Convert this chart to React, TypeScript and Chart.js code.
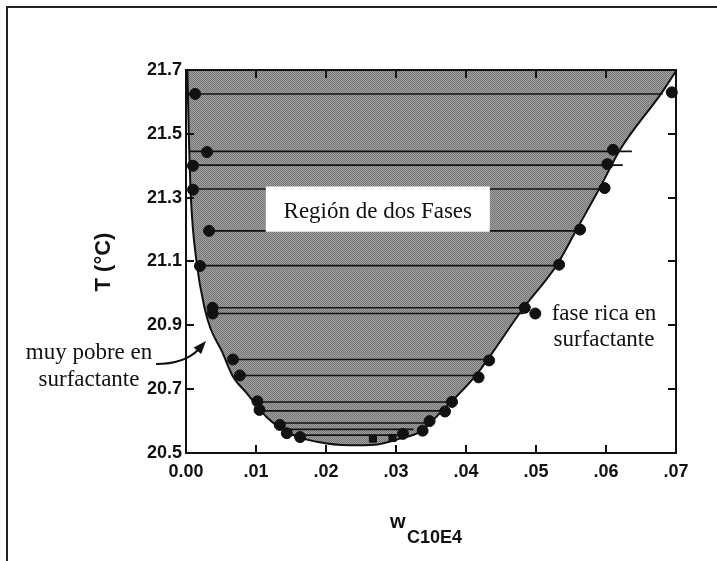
import React, { useEffect, useRef } from 'react';
import { Chart, registerables } from 'chart.js';

Chart.register(...registerables);

// Axis ticks
const xTickValues = [0, 0.01, 0.02, 0.03, 0.04, 0.05, 0.06, 0.07];
const xTickLabels = ['0.00', '.01', '.02', '.03', '.04', '.05', '.06', '.07'];
const yTickValues = [20.5, 20.7, 20.9, 21.1, 21.3, 21.5, 21.7];
const yTickLabels = ['20.5', '20.7', '20.9', '21.1', '21.3', '21.5', '21.7'];

// Binodal (coexistence) curve
const curveX = [0.0002, 0.0004, 0.0007, 0.0015, 0.0027, 0.0035, 0.0051, 0.0067, 0.0087, 0.0115, 0.0149, 0.0187, 0.0234, 0.027, 0.0306, 0.0334, 0.0365, 0.0413, 0.043, 0.048, 0.053, 0.0558, 0.0591, 0.062, 0.068, 0.0701];
const curveT = [21.7, 21.5, 21.3, 21.1, 20.95, 20.89, 20.82, 20.74, 20.687, 20.613, 20.56, 20.535, 20.524, 20.526, 20.545, 20.566, 20.63, 20.74, 20.79, 20.948, 21.09, 21.2, 21.33, 21.45, 21.63, 21.7];

// Surfactant-poor phase (left points)
const leftX = [0.0013, 0.003, 0.001, 0.001, 0.0033, 0.002, 0.0038, 0.0038, 0.0067, 0.0077, 0.0102, 0.0105, 0.0134, 0.0144, 0.0163];
const leftT = [21.625, 21.443, 21.4, 21.325, 21.196, 21.086, 20.955, 20.937, 20.793, 20.743, 20.662, 20.635, 20.588, 20.562, 20.55];

// Surfactant-rich phase (right points)
const rightX = [0.0694, 0.061, 0.0602, 0.0598, 0.0563, 0.0533, 0.0484, 0.0499, 0.0433, 0.0418, 0.038, 0.037, 0.0348, 0.0338, 0.031];
const rightT = [21.63, 21.45, 21.405, 21.33, 21.2, 21.09, 20.955, 20.937, 20.79, 20.737, 20.66, 20.63, 20.6, 20.57, 20.56];

// Tie lines
const tieT = [21.625, 21.445, 21.402, 21.327, 21.196, 21.087, 20.955, 20.937, 20.793, 20.743, 20.66, 20.632, 20.594, 20.574, 20.556];
const tieX1 = [0.0, 0.0005, 0.0005, 0.0007, 0.0033, 0.0016, 0.0038, 0.0038, 0.0067, 0.0077, 0.0102, 0.0105, 0.013, 0.0137, 0.0144];
const tieX2 = [0.0681, 0.0637, 0.0624, 0.0598, 0.0563, 0.0533, 0.0484, 0.0482, 0.0433, 0.0418, 0.038, 0.0367, 0.0344, 0.0325, 0.0306];

// Critical-region markers
const markerX = [0.0267, 0.0295];
const markerT = [20.545, 20.547];

const SERIF = '"Liberation Serif", "Times New Roman", serif';
const SANS = '"Liberation Sans", Arial, Helvetica, sans-serif';

function makePattern(): CanvasPattern | string {
  const c = document.createElement('canvas');
  c.width = 2;
  c.height = 2;
  const g = c.getContext('2d');
  if (!g) return '#8e8e8e';
  g.fillStyle = '#a2a2a2';
  g.fillRect(0, 0, 2, 2);
  g.fillStyle = '#747474';
  g.fillRect(0, 0, 1, 1);
  g.fillRect(1, 1, 1, 1);
  const p = g.createPattern(c, 'repeat');
  return p || '#8e8e8e';
}

const decor = {
  id: 'decor',
  beforeDraw(chart: any) {
    const ctx = chart.ctx;
    ctx.save();
    ctx.fillStyle = '#ffffff';
    ctx.fillRect(0, 0, chart.width, chart.height);
    ctx.fillStyle = '#222222';
    ctx.fillRect(6, 6, chart.width - 6, 2);
    ctx.fillRect(6, 6, 2, chart.height - 6);
    ctx.restore();
  },
  afterDatasetsDraw(chart: any) {
    const ctx = chart.ctx;
    const x = chart.scales.x;
    const y = chart.scales.y;
    const a = chart.chartArea;
    ctx.save();
    // white label box
    const bx1 = x.getPixelForValue(0.0114);
    const bx2 = x.getPixelForValue(0.0434);
    const by1 = y.getPixelForValue(21.335);
    const by2 = y.getPixelForValue(21.193);
    ctx.fillStyle = '#ffffff';
    ctx.fillRect(bx1, by1, bx2 - bx1, by2 - by1);
    ctx.fillStyle = '#111111';
    ctx.font = '23px ' + SERIF;
    ctx.textAlign = 'center';
    ctx.textBaseline = 'alphabetic';
    ctx.fillText('Región de dos Fases', (bx1 + bx2) / 2, by2 - 14);

    // frame
    ctx.strokeStyle = '#111111';
    ctx.lineWidth = 2;
    ctx.strokeRect(a.left, a.top, a.right - a.left, a.bottom - a.top);
    // inward ticks
    ctx.beginPath();
    for (const v of xTickValues) {
      const px = Math.round(x.getPixelForValue(v));
      ctx.moveTo(px, a.bottom);
      ctx.lineTo(px, a.bottom - 8);
      ctx.moveTo(px, a.top);
      ctx.lineTo(px, a.top + 8);
    }
    for (const v of yTickValues) {
      const py = Math.round(y.getPixelForValue(v));
      ctx.moveTo(a.left, py);
      ctx.lineTo(a.left + 8, py);
      ctx.moveTo(a.right, py);
      ctx.lineTo(a.right - 8, py);
    }
    ctx.stroke();
    ctx.restore();
  },
  afterDraw(chart: any) {
    const ctx = chart.ctx;
    ctx.save();
    ctx.fillStyle = '#111111';
    // annotations
    ctx.font = '23px ' + SERIF;
    ctx.textAlign = 'center';
    ctx.textBaseline = 'alphabetic';
    ctx.fillText('muy pobre en', 89, 359);
    ctx.fillText('surfactante', 89, 386);
    ctx.fillText('fase rica en', 604, 320);
    ctx.fillText('surfactante', 604, 346);

    // arrow
    ctx.strokeStyle = '#111111';
    ctx.lineWidth = 2;
    ctx.beginPath();
    ctx.moveTo(156, 364);
    ctx.quadraticCurveTo(184, 364, 198, 350);
    ctx.stroke();
    const tipX = 206;
    const tipY = 341;
    const ang = Math.atan2(tipY - 350, tipX - 198);
    const len = 13;
    const half = 5;
    const bxp = tipX - len * Math.cos(ang);
    const byp = tipY - len * Math.sin(ang);
    ctx.beginPath();
    ctx.moveTo(tipX, tipY);
    ctx.lineTo(bxp + half * Math.sin(ang), byp - half * Math.cos(ang));
    ctx.lineTo(bxp - half * Math.sin(ang), byp + half * Math.cos(ang));
    ctx.closePath();
    ctx.fill();

    // axis titles
    ctx.font = 'bold 22px ' + SANS;
    ctx.translate(104, 262);
    ctx.rotate(-Math.PI / 2);
    ctx.textAlign = 'center';
    ctx.textBaseline = 'middle';
    ctx.fillText('T (°C)', 0, 0);
    ctx.setTransform(1, 0, 0, 1, 0, 0);
    ctx.textAlign = 'left';
    ctx.textBaseline = 'alphabetic';
    ctx.font = 'bold 20px ' + SANS;
    ctx.fillText('w', 390, 528);
    ctx.font = 'bold 18px ' + SANS;
    ctx.fillText('C10E4', 407, 543);
    ctx.restore();
  },
};

export default function App() {
  const ref = useRef<HTMLCanvasElement | null>(null);

  useEffect(() => {
    if (!ref.current) return;
    const pattern = makePattern();
    const curve = curveX.map((v, i) => ({ x: v, y: curveT[i] }));
    const tieSets = tieT.map((t, i) => ({
      type: 'line' as const,
      data: [
        { x: tieX1[i], y: t },
        { x: tieX2[i], y: t },
      ],
      borderColor: '#111111',
      borderWidth: 1.6,
      pointRadius: 0,
      fill: false,
      order: 5,
    }));
    const pts = [
      ...leftX.map((v, i) => ({ x: v, y: leftT[i] })),
      ...rightX.map((v, i) => ({ x: v, y: rightT[i] })),
    ];
    const marks = markerX.map((v, i) => ({ x: v, y: markerT[i] }));

    const chart = new Chart(ref.current, {
      type: 'scatter',
      data: {
        datasets: [
          {
            type: 'line',
            data: curve,
            borderColor: '#111111',
            borderWidth: 2,
            backgroundColor: pattern as any,
            fill: 'end',
            pointRadius: 0,
            cubicInterpolationMode: 'monotone',
            order: 10,
          },
          ...tieSets,
          {
            data: pts,
            backgroundColor: '#111111',
            borderColor: '#111111',
            pointRadius: 5.5,
            pointHoverRadius: 5.5,
            showLine: false,
            clip: false as any,
            order: 1,
          },
          {
            data: marks,
            backgroundColor: '#111111',
            borderColor: '#111111',
            pointStyle: 'rect',
            pointRadius: 5,
            showLine: false,
            order: 1,
          },
        ] as any,
      },
      options: {
        animation: false,
        responsive: true,
        maintainAspectRatio: false,
        events: [],
        layout: { padding: { top: 70, right: 41, left: 0, bottom: 0 } },
        plugins: {
          legend: { display: false },
          tooltip: { enabled: false },
        },
        scales: {
          x: {
            type: 'linear',
            min: 0,
            max: 0.07,
            afterFit: (s: any) => {
              s.height = 108;
            },
            afterBuildTicks: (s: any) => {
              s.ticks = xTickValues.map((v) => ({ value: v }));
            },
            grid: { display: false, drawTicks: false, tickLength: 0 },
            border: { display: false },
            ticks: {
              padding: 8,
              color: '#111111',
              font: { family: SANS, weight: 'bold', size: 18 },
              maxRotation: 0,
              autoSkip: false,
              callback: (_v: any, i: number) => xTickLabels[i],
            },
          },
          y: {
            type: 'linear',
            min: 20.5,
            max: 21.7,
            afterFit: (s: any) => {
              s.width = 186;
            },
            afterBuildTicks: (s: any) => {
              s.ticks = yTickValues.map((v) => ({ value: v }));
            },
            grid: { display: false, drawTicks: false, tickLength: 0 },
            border: { display: false },
            ticks: {
              padding: 4,
              color: '#111111',
              font: { family: SANS, weight: 'bold', size: 18 },
              autoSkip: false,
              callback: (_v: any, i: number) => yTickLabels[i],
            },
          },
        },
      } as any,
      plugins: [decor],
    });
    return () => chart.destroy();
  }, []);

  return (
    <div style={{ position: 'absolute', left: 0, top: 0, width: 717, height: 561 }}>
      <canvas ref={ref} />
    </div>
  );
}
